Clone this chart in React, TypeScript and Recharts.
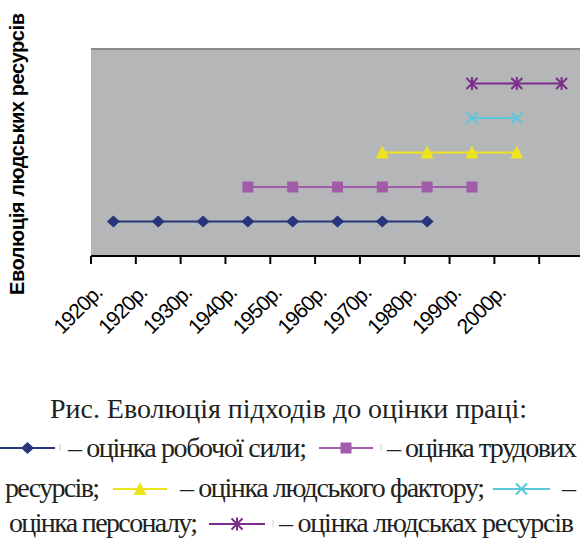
import React from 'react';
import { LineChart, Line, XAxis, YAxis, CartesianGrid, ReferenceLine } from 'recharts';

const periods = ['1920р.', '1920р.', '1930р.', '1940р.', '1950р.', '1960р.', '1970р.', '1980р.', '1990р.', '2000р.', ''];
const robochaSyla = [1, 1, 1, 1, 1, 1, 1, 1, null, null, null];
const trudoviResursy = [null, null, null, 2, 2, 2, 2, 2, 2, null, null];
const liudskyiFaktor = [null, null, null, null, null, null, 3, 3, 3, 3, null];
const personal = [null, null, null, null, null, null, null, null, 4, 4, null];
const liudskiResursy = [null, null, null, null, null, null, null, null, 5, 5, 5];

const data = periods.map((period, i) => ({
  period,
  robocha: robochaSyla[i],
  trudovi: trudoviResursy[i],
  faktor: liudskyiFaktor[i],
  personal: personal[i],
  liudski: liudskiResursy[i],
}));

const HALF = 22.4; // half of a category width
const TEXT = '#231f20';

type Shape = 'diamond' | 'square' | 'triangle' | 'cross' | 'star';

const Marker = ({ shape, cx, cy, color }: { shape: Shape; cx: number; cy: number; color: string }) => {
  if (shape === 'diamond')
    return <polygon points={`${cx},${cy - 6} ${cx + 6.5},${cy} ${cx},${cy + 6} ${cx - 6.5},${cy}`} fill={color} />;
  if (shape === 'square') return <rect x={cx - 5.5} y={cy - 5.5} width={11} height={11} fill={color} />;
  if (shape === 'triangle')
    return <polygon points={`${cx},${cy - 7} ${cx + 6.5},${cy + 6} ${cx - 6.5},${cy + 6}`} fill={color} />;
  if (shape === 'cross')
    return (
      <path
        d={`M${cx - 5.5},${cy - 5.5}L${cx + 5.5},${cy + 5.5}M${cx + 5.5},${cy - 5.5}L${cx - 5.5},${cy + 5.5}`}
        stroke={color}
        strokeWidth={2}
      />
    );
  return (
    <path
      d={`M${cx - 5.5},${cy - 5.5}L${cx + 5.5},${cy + 5.5}M${cx + 5.5},${cy - 5.5}L${cx - 5.5},${cy + 5.5}M${cx},${cy - 6.5}L${cx},${cy + 6.5}`}
      stroke={color}
      strokeWidth={2}
    />
  );
};

const series: { key: string; color: string; shape: Shape }[] = [
  { key: 'robocha', color: '#27367a', shape: 'diamond' },
  { key: 'trudovi', color: '#a05ca8', shape: 'square' },
  { key: 'faktor', color: '#eee41c', shape: 'triangle' },
  { key: 'personal', color: '#5cc6da', shape: 'cross' },
  { key: 'liudski', color: '#7a2d8a', shape: 'star' },
];

const dotFor = (shape: Shape, color: string) => (p: any) => {
  if (p.cy == null || p.value == null) return <g key={p.index} />;
  return (
    <g key={p.index}>
      <Marker shape={shape} cx={p.cx} cy={p.cy} color={color} />
    </g>
  );
};

const XTick = (props: any) => {
  const { x, y, payload } = props;
  return (
    <g>
      <line x1={x - HALF} x2={x - HALF} y1={y} y2={y + 8} stroke="#000" strokeWidth={2} />
      <text
        transform={`translate(${x - 10},${y + 38}) rotate(-45)`}
        textAnchor="end"
        fontFamily="Liberation Sans, Arial, sans-serif"
        fontSize={21}
        letterSpacing={-1}
        fill="#000"
      >
        {payload.value}
      </text>
    </g>
  );
};

const Icon = ({ x1, x2, y, color, shape }: { x1: number; x2: number; y: number; color: string; shape: Shape }) => (
  <g>
    <line x1={x1} x2={x2} y1={y} y2={y} stroke={color} strokeWidth={2} />
    <Marker shape={shape} cx={(x1 + x2) / 2} cy={y} color={color} />
  </g>
);

const Seg = ({ x, y, w, children }: any) => (
  <text x={x} y={y} textLength={w} lengthAdjust="spacing">
    {children}
  </text>
);

export default function App() {
  return (
    <div style={{ position: 'fixed', left: 0, top: 0, width: 580, height: 539, overflow: 'hidden', background: '#fff' }}>
      <div style={{ position: 'absolute', left: 0, top: 0 }}>
        <LineChart width={584} height={340} data={data} margin={{ top: 49, right: 0, left: 91, bottom: 0 }}>
          <CartesianGrid fill="#b5b6b8" horizontal={false} vertical={false} />
          <XAxis
            dataKey="period"
            interval={0}
            padding={{ left: HALF, right: HALF }}
            height={84}
            tickSize={0}
            tickMargin={0}
            tickLine={false}
            axisLine={{ stroke: '#000', strokeWidth: 2 }}
            tick={<XTick />}
          />
          <YAxis
            type="number"
            domain={[0, 6]}
            width={0}
            tick={false}
            tickLine={false}
            axisLine={{ stroke: '#8a8a8a', strokeWidth: 2 }}
          />
          <ReferenceLine y={6} stroke="#8a8a8a" strokeWidth={2} />
          {series.map((s) => (
            <Line
              key={s.key}
              dataKey={s.key}
              stroke={s.color}
              strokeWidth={2}
              dot={dotFor(s.shape, s.color)}
              activeDot={false}
              isAnimationActive={false}
            />
          ))}
        </LineChart>
      </div>
      <svg width={580} height={539} style={{ position: 'absolute', left: 0, top: 0 }}>
        <text
          transform="translate(24,154) rotate(-90)"
          textAnchor="middle"
          fontFamily="Liberation Sans, Arial, sans-serif"
          fontWeight="bold"
          fontSize={20}
          textLength={282}
          lengthAdjust="spacing"
          fill="#000"
        >
          Еволюція людських ресурсів
        </text>
        <g fontFamily="Liberation Serif, Times New Roman, serif" fontSize={28} fill={TEXT}>
          <Seg x={50} y={418} w={477}>Рис. Еволюція підходів до оцінки праці:</Seg>

          <Icon x1={0} x2={55} y={448} color="#27367a" shape="diamond" />
          <line x1={60} x2={60} y1={444} y2={451} stroke="#ccc" strokeWidth={1} />
          <Seg x={68} y={457} w={239}>– оцінка робочої сили;</Seg>
          <Icon x1={319} x2={373} y={448} color="#a05ca8" shape="square" />
          <line x1={381} x2={381} y1={444} y2={451} stroke="#ccc" strokeWidth={1} />
          <Seg x={387} y={457} w={190}>– оцінка трудових</Seg>

          <Seg x={5} y={497} w={95}>ресурсів;</Seg>
          <Icon x1={113} x2={167} y={489} color="#eee41c" shape="triangle" />
          <Seg x={180} y={497} w={305}>– оцінка людського фактору;</Seg>
          <Icon x1={493} x2={550} y={489} color="#5cc6da" shape="cross" />
          <Seg x={562} y={497} w={11}>–</Seg>

          <Seg x={9} y={532} w={189}>оцінка персоналу;</Seg>
          <Icon x1={209} x2={265} y={524} color="#7a2d8a" shape="star" />
          <line x1={273} x2={273} y1={520} y2={527} stroke="#ccc" strokeWidth={1} />
          <Seg x={279} y={532} w={295}>– оцінка людськах ресурсів</Seg>
        </g>
      </svg>
    </div>
  );
}
